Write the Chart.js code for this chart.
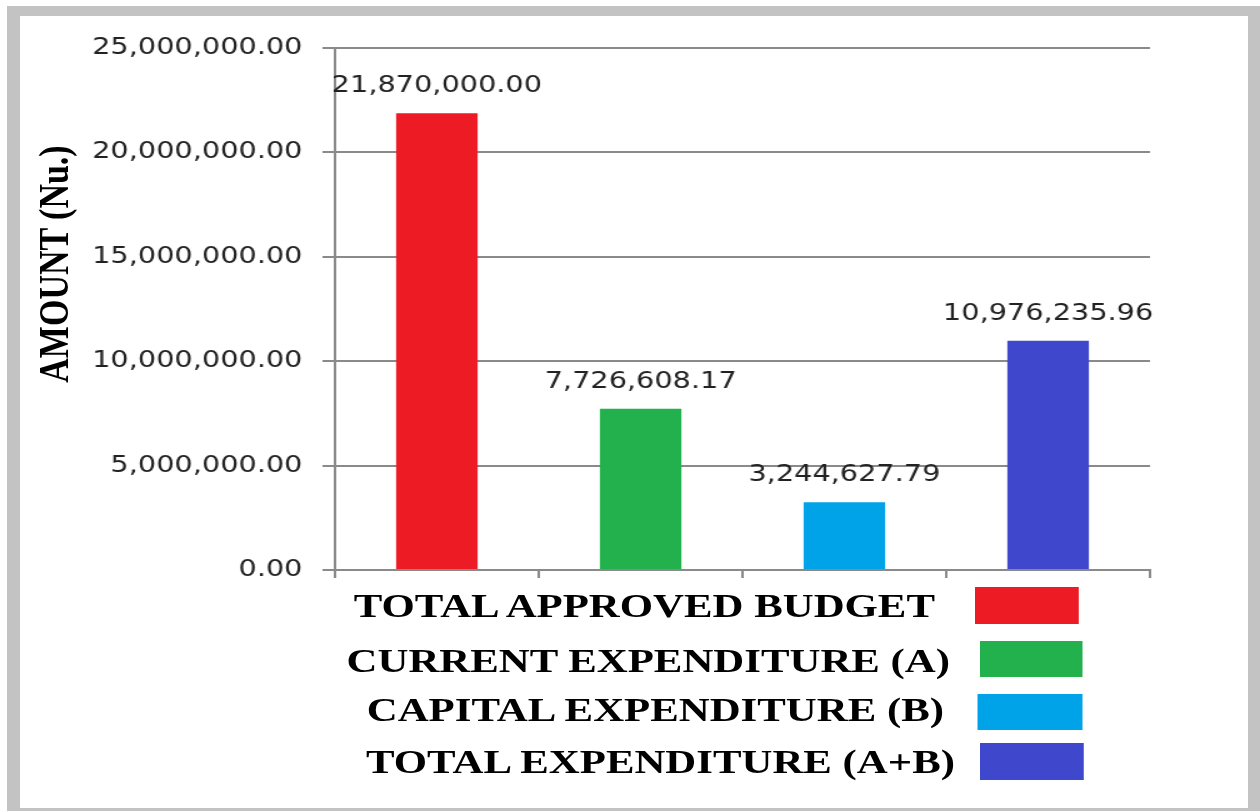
<!DOCTYPE html>
<html>
<head>
<meta charset="utf-8">
<script src="https://cdn.jsdelivr.net/npm/chart.js@4.4.1/dist/chart.umd.min.js"></script>
<style>
  html, body { margin: 0; padding: 0; background: #ffffff; width: 1260px; height: 811px; overflow: hidden; }
  #frame {
    position: absolute; left: 7px; top: 6px;
    width: 1228px; height: 792px;
    border-style: solid; border-color: #c3c3c3;
    border-width: 10px 12px 3px 13px;
    background: #ffffff;
  }
  #stage {
    position: absolute; left: 0; top: 0;
    width: 1008px; height: 811px;
    transform: scaleX(1.25); transform-origin: 0 0;
  }
  #chartBox { position: absolute; left: 0; top: 0; width: 1008px; height: 600px; }
  #yTitle {
    position: absolute; left: 43px; top: 264px;
    transform: translate(-50%, -50%) rotate(-90deg);
    white-space: nowrap;
    font: bold 34px "Liberation Serif", "Times New Roman", serif;
    color: #000;
  }
  #legend { position: absolute; left: 0; top: 0; width: 1008px; height: 811px; }
  .txt {
    position: absolute;
    font: bold 34.25px "Liberation Serif", "Times New Roman", serif;
    line-height: 34.25px;
    color: #000; white-space: nowrap;
  }
  .sw { position: absolute; }
  /* row 1 */
  .r0 .txt { right: 260px; top: 587.6px; }
  .r0 .sw  { left: 780px; width: 83.2px; top: 587px; height: 37px; }
  /* row 2 */
  .r1 .txt { right: 248px; top: 642.6px; }
  .r1 .sw  { left: 784px; width: 81.6px; top: 641px; height: 36px; }
  /* row 3 */
  .r2 .txt { right: 252.8px; top: 691.6px; }
  .r2 .sw  { left: 781.6px; width: 84px; top: 694px; height: 36px; }
  /* row 4 */
  .r3 .txt { right: 244px; top: 743.6px; }
  .r3 .sw  { left: 784px; width: 83.2px; top: 743px; height: 37px; }
</style>
</head>
<body>
<div id="frame"></div>
<div id="stage">
  <div id="chartBox"><canvas id="c" width="1008" height="600" style="width:1008px;height:600px"></canvas></div>
  <div id="yTitle">AMOUNT (Nu.)</div>
  <div id="legend"></div>
</div>
<script>
const categories = ['TOTAL APPROVED BUDGET', 'CURRENT EXPENDITURE (A)', 'CAPITAL EXPENDITURE (B)', 'TOTAL EXPENDITURE (A+B)'];
const amounts = [21870000.00, 7726608.17, 3244627.79, 10976235.96];
const barColors = ['#ED1C24', '#22B14C', '#00A2E8', '#3F48CC'];
const yTickValues = [0, 5000000, 10000000, 15000000, 20000000, 25000000];

function fmt(v) {
  return v.toLocaleString('en-US', { minimumFractionDigits: 2, maximumFractionDigits: 2 });
}

const lineColor = '#8a8a8a';

const barValueLabels = {
  id: 'barValueLabels',
  afterDatasetsDraw(chart) {
    const ctx = chart.ctx;
    const meta = chart.getDatasetMeta(0);
    ctx.save();
    ctx.font = '23px "DejaVu Sans"';
    ctx.fillStyle = '#222222';
    ctx.textAlign = 'center';
    ctx.textBaseline = 'middle';
    meta.data.forEach((bar, i) => {
      ctx.fillText(fmt(amounts[i]), bar.x, bar.y - 27);
    });
    ctx.restore();
  }
};

new Chart(document.getElementById('c'), {
  type: 'bar',
  data: {
    labels: categories,
    datasets: [{
      data: amounts,
      backgroundColor: barColors,
      borderWidth: 0,
      categoryPercentage: 0.8,
      barPercentage: 0.5
    }]
  },
  options: {
    responsive: false,
    animation: false,
    events: [],
    layout: { padding: { left: 0, top: 48, right: 88, bottom: 22 } },
    plugins: { legend: { display: false }, tooltip: { enabled: false }, title: { display: false } },
    scales: {
      x: {
        ticks: { display: false },
        grid: { drawOnChartArea: false, drawTicks: true, tickLength: 8, color: lineColor, lineWidth: 2 },
        border: { display: true, color: lineColor, width: 2 }
      },
      y: {
        min: 0, max: 25000000,
        afterBuildTicks(scale) { scale.ticks = yTickValues.map(v => ({ value: v })); },
        afterFit(scale) { scale.width = 268; },
        ticks: {
          padding: 16,
          color: '#222222',
          font: { family: 'DejaVu Sans', size: 23 },
          callback: (v) => fmt(v)
        },
        grid: { color: lineColor, lineWidth: 2, tickLength: 10, drawTicks: true },
        border: { display: true, color: lineColor, width: 2 }
      }
    }
  },
  plugins: [barValueLabels]
});

const legend = document.getElementById('legend');
categories.forEach((name, i) => {
  const row = document.createElement('div');
  row.className = 'r' + i;
  const t = document.createElement('span');
  t.className = 'txt';
  t.textContent = name;
  const s = document.createElement('span');
  s.className = 'sw';
  s.style.background = barColors[i];
  row.appendChild(t);
  row.appendChild(s);
  legend.appendChild(row);
});
</script>
</body>
</html>
